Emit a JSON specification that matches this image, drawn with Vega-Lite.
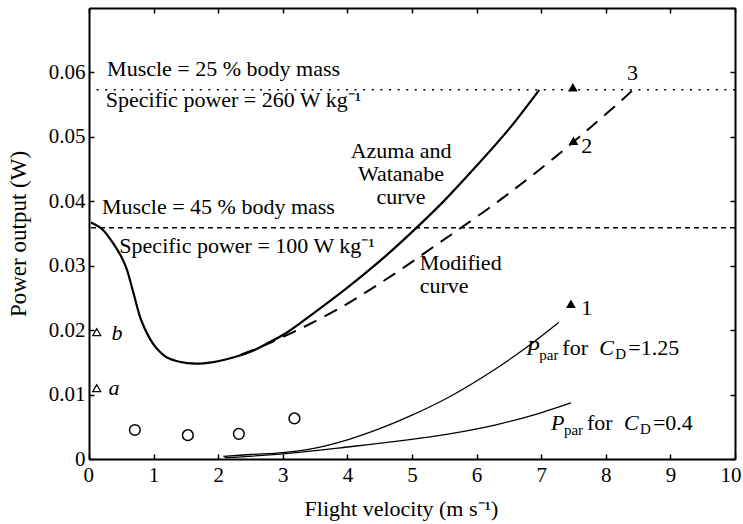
{
  "$schema": "https://vega.github.io/schema/vega-lite/v6.json",
  "width": 646,
  "height": 451,
  "autosize": {"type": "none"},
  "padding": {"left": 89, "top": 8, "right": 8, "bottom": 65},
  "background": "white",
  "config": {"view": {"stroke": null}, "font": "Liberation Serif"},
  "datasets": {
    "aw": [
      {"v": 0.03, "p": 0.0367}, {"v": 0.2, "p": 0.0357}, {"v": 0.38, "p": 0.0334}, {"v": 0.5, "p": 0.0314},
      {"v": 0.58, "p": 0.0296}, {"v": 0.69, "p": 0.0257}, {"v": 0.81, "p": 0.0215}, {"v": 0.99, "p": 0.0179},
      {"v": 1.1, "p": 0.0166}, {"v": 1.2, "p": 0.0158}, {"v": 1.4, "p": 0.0151}, {"v": 1.65, "p": 0.0148},
      {"v": 1.9, "p": 0.015}, {"v": 2.1, "p": 0.0154}, {"v": 2.49, "p": 0.0166}, {"v": 2.75, "p": 0.0179},
      {"v": 3.06, "p": 0.0196}, {"v": 3.5, "p": 0.0228}, {"v": 4.0, "p": 0.0266}, {"v": 4.5, "p": 0.0307},
      {"v": 5.06, "p": 0.0358}, {"v": 5.5, "p": 0.0401}, {"v": 6.0, "p": 0.0455}, {"v": 6.5, "p": 0.0512},
      {"v": 6.97, "p": 0.0573}
    ],
    "modified": [
      {"v": 2.35, "p": 0.0162}, {"v": 2.75, "p": 0.0178}, {"v": 3.31, "p": 0.0204}, {"v": 3.93, "p": 0.0237},
      {"v": 4.4, "p": 0.0266}, {"v": 4.9, "p": 0.0299}, {"v": 5.4, "p": 0.0334}, {"v": 5.79, "p": 0.0361},
      {"v": 6.35, "p": 0.0401}, {"v": 6.82, "p": 0.0437}, {"v": 7.33, "p": 0.0478}, {"v": 7.79, "p": 0.0517},
      {"v": 8.26, "p": 0.0558}, {"v": 8.42, "p": 0.0573}
    ],
    "ppar125": [
      {"v": 2.08, "p": 0.0004}, {"v": 2.5, "p": 0.0007}, {"v": 3.0, "p": 0.001}, {"v": 3.5, "p": 0.0017},
      {"v": 4.04, "p": 0.0031}, {"v": 4.5, "p": 0.0047}, {"v": 5.0, "p": 0.0068}, {"v": 5.59, "p": 0.0097},
      {"v": 6.25, "p": 0.0137}, {"v": 6.77, "p": 0.0173}, {"v": 7.27, "p": 0.0212}
    ],
    "ppar04": [
      {"v": 2.1, "p": 0.0002}, {"v": 3.0, "p": 0.0008}, {"v": 4.04, "p": 0.0019}, {"v": 4.81, "p": 0.0028},
      {"v": 5.58, "p": 0.0039}, {"v": 6.3, "p": 0.0053}, {"v": 6.97, "p": 0.0071}, {"v": 7.46, "p": 0.0087}
    ],
    "filledTri": [{"v": 7.46, "p": 0.0241}, {"v": 7.5, "p": 0.0494}, {"v": 7.49, "p": 0.0577}],
    "openTri": [{"v": 0.12, "p": 0.0197}, {"v": 0.12, "p": 0.011}],
    "circles": [{"v": 0.71, "p": 0.0045}, {"v": 1.53, "p": 0.0037}, {"v": 2.32, "p": 0.0039}, {"v": 3.18, "p": 0.0063}],
    "notes": [
      {"v": 0.28, "p": 0.0594, "t": "Muscle = 25 % body mass"},
      {"v": 0.26, "p": 0.0547, "t": "Specific power = 260 W kg⁻¹"},
      {"v": 0.2, "p": 0.038, "t": "Muscle = 45 % body mass"},
      {"v": 0.47, "p": 0.0319, "t": "Specific power = 100 W kg⁻¹"},
      {"v": 5.12, "p": 0.0294, "t": "Modified"},
      {"v": 5.12, "p": 0.0257, "t": "curve"},
      {"v": 7.62, "p": 0.0223, "t": "1"},
      {"v": 7.62, "p": 0.0475, "t": "2"},
      {"v": 8.33, "p": 0.0588, "t": "3"}
    ],
    "centerNotes": [
      {"v": 4.83, "p": 0.0467, "t": "Azuma and"},
      {"v": 4.83, "p": 0.0431, "t": "Watanabe"},
      {"v": 4.83, "p": 0.0396, "t": "curve"}
    ],
    "italicNotes": [
      {"v": 0.35, "p": 0.0184, "t": "b"},
      {"v": 0.3, "p": 0.0099, "t": "a"}
    ],
    "pparNotes": [
      {"v": 6.77, "p": 0.0162, "t": "=1.25"},
      {"v": 7.15, "p": 0.0045, "t": "=0.4"}
    ],
    "hline25": [{"p": 0.0573}],
    "hline45": [{"p": 0.0359}]
  },
  "resolve": {"axis": {"x": "independent", "y": "independent"}},
  "layer": [
    {
      "layer": [
        {
          "data": {"name": "aw"},
          "mark": {"type": "line", "color": "black", "strokeWidth": 2.2, "interpolate": "catmull-rom"},
          "encoding": {
            "x": {"field": "v", "type": "quantitative", "scale": {"domain": [0, 10], "nice": false, "zero": false},
              "axis": {"orient": "bottom", "values": [0,1,2,3,4,5,6,7,8,9,10], "format": "d", "grid": false,
                "tickSize": -5, "tickWidth": 1.5, "tickColor": "black", "domainColor": "black", "domainWidth": 2,
                "labelFont": "Liberation Serif", "labelFontSize": 21, "labelColor": "black", "labelPadding": 10,
                "labelFlush": true, "labelFlushOffset": 6, "labelOverlap": false,
                "title": "Flight velocity (m s⁻¹)", "titleFont": "Liberation Serif", "titleFontSize": 22,
                "titleFontWeight": "normal", "titleColor": "black", "titlePadding": 13, "titleX": 312}},
            "y": {"field": "p", "type": "quantitative", "scale": {"domain": [0, 0.07], "nice": false, "zero": true},
              "axis": {"orient": "left", "values": [0, 0.01, 0.02, 0.03, 0.04, 0.05, 0.06], "grid": false,
                "labelExpr": "datum.value === 0 ? '0' : format(datum.value, '.2f')",
                "tickSize": -5, "tickWidth": 1.5, "tickColor": "black", "domainColor": "black", "domainWidth": 2,
                "labelFont": "Liberation Serif", "labelFontSize": 21, "labelColor": "black", "labelPadding": 9,
                "labelFlush": false, "labelOverlap": false,
                "title": "Power output (W)", "titleFont": "Liberation Serif", "titleFontSize": 23,
                "titleFontWeight": "normal", "titleColor": "black", "titlePadding": 18}}
          }
        },
        {
          "data": {"name": "modified"},
          "mark": {"type": "line", "color": "black", "strokeWidth": 2, "strokeDash": [14, 9], "interpolate": "catmull-rom"},
          "encoding": {
            "x": {"field": "v", "type": "quantitative"},
            "y": {"field": "p", "type": "quantitative"}
          }
        },
        {
          "data": {"name": "ppar125"},
          "mark": {"type": "line", "color": "black", "strokeWidth": 1.3, "interpolate": "catmull-rom"},
          "encoding": {
            "x": {"field": "v", "type": "quantitative"},
            "y": {"field": "p", "type": "quantitative"}
          }
        },
        {
          "data": {"name": "ppar04"},
          "mark": {"type": "line", "color": "black", "strokeWidth": 1.3, "interpolate": "catmull-rom"},
          "encoding": {
            "x": {"field": "v", "type": "quantitative"},
            "y": {"field": "p", "type": "quantitative"}
          }
        },
        {
          "data": {"name": "hline25"},
          "mark": {"type": "rule", "color": "black", "strokeWidth": 1.6, "strokeDash": [2, 6.6]},
          "encoding": {"y": {"field": "p", "type": "quantitative"}}
        },
        {
          "data": {"name": "hline45"},
          "mark": {"type": "rule", "color": "black", "strokeWidth": 1.5, "strokeDash": [5, 4]},
          "encoding": {"y": {"field": "p", "type": "quantitative"}}
        },
        {
          "data": {"name": "filledTri"},
          "mark": {"type": "point", "shape": "triangle-up", "filled": true, "color": "black", "size": 95, "opacity": 1},
          "encoding": {
            "x": {"field": "v", "type": "quantitative"},
            "y": {"field": "p", "type": "quantitative"}
          }
        },
        {
          "data": {"name": "openTri"},
          "mark": {"type": "point", "shape": "triangle-up", "filled": false, "color": "black", "size": 65, "strokeWidth": 1.2, "opacity": 1},
          "encoding": {
            "x": {"field": "v", "type": "quantitative"},
            "y": {"field": "p", "type": "quantitative"}
          }
        },
        {
          "data": {"name": "circles"},
          "mark": {"type": "point", "shape": "circle", "filled": false, "color": "black", "size": 115, "strokeWidth": 1.5, "opacity": 1},
          "encoding": {
            "x": {"field": "v", "type": "quantitative"},
            "y": {"field": "p", "type": "quantitative"}
          }
        },
        {
          "data": {"name": "notes"},
          "mark": {"type": "text", "align": "left", "baseline": "alphabetic", "font": "Liberation Serif", "fontSize": 22, "color": "black"},
          "encoding": {
            "x": {"field": "v", "type": "quantitative"},
            "y": {"field": "p", "type": "quantitative"},
            "text": {"field": "t"}
          }
        },
        {
          "data": {"name": "centerNotes"},
          "mark": {"type": "text", "align": "center", "baseline": "alphabetic", "font": "Liberation Serif", "fontSize": 22, "color": "black"},
          "encoding": {
            "x": {"field": "v", "type": "quantitative"},
            "y": {"field": "p", "type": "quantitative"},
            "text": {"field": "t"}
          }
        },
        {
          "data": {"name": "italicNotes"},
          "mark": {"type": "text", "align": "left", "baseline": "alphabetic", "font": "Liberation Serif", "fontStyle": "italic", "fontSize": 22, "color": "black"},
          "encoding": {
            "x": {"field": "v", "type": "quantitative"},
            "y": {"field": "p", "type": "quantitative"},
            "text": {"field": "t"}
          }
        },
        {
          "data": {"name": "pparNotes"},
          "mark": {"type": "text", "text": "P", "align": "left", "baseline": "alphabetic", "font": "Liberation Serif", "fontStyle": "italic", "fontSize": 22, "color": "black"},
          "encoding": {
            "x": {"field": "v", "type": "quantitative"},
            "y": {"field": "p", "type": "quantitative"}
          }
        },
        {
          "data": {"name": "pparNotes"},
          "mark": {"type": "text", "text": "par", "align": "left", "baseline": "alphabetic", "dx": 13, "dy": 5, "font": "Liberation Serif", "fontSize": 15, "color": "black"},
          "encoding": {
            "x": {"field": "v", "type": "quantitative"},
            "y": {"field": "p", "type": "quantitative"}
          }
        },
        {
          "data": {"name": "pparNotes"},
          "mark": {"type": "text", "text": "for", "align": "left", "baseline": "alphabetic", "dx": 36, "font": "Liberation Serif", "fontSize": 22, "color": "black"},
          "encoding": {
            "x": {"field": "v", "type": "quantitative"},
            "y": {"field": "p", "type": "quantitative"}
          }
        },
        {
          "data": {"name": "pparNotes"},
          "mark": {"type": "text", "text": "C", "align": "left", "baseline": "alphabetic", "dx": 73, "font": "Liberation Serif", "fontStyle": "italic", "fontSize": 22, "color": "black"},
          "encoding": {
            "x": {"field": "v", "type": "quantitative"},
            "y": {"field": "p", "type": "quantitative"}
          }
        },
        {
          "data": {"name": "pparNotes"},
          "mark": {"type": "text", "text": "D", "align": "left", "baseline": "alphabetic", "dx": 89, "dy": 4, "font": "Liberation Serif", "fontSize": 15, "color": "black"},
          "encoding": {
            "x": {"field": "v", "type": "quantitative"},
            "y": {"field": "p", "type": "quantitative"}
          }
        },
        {
          "data": {"name": "pparNotes"},
          "mark": {"type": "text", "align": "left", "baseline": "alphabetic", "dx": 102, "font": "Liberation Serif", "fontSize": 22, "color": "black"},
          "encoding": {
            "x": {"field": "v", "type": "quantitative"},
            "y": {"field": "p", "type": "quantitative"},
            "text": {"field": "t"}
          }
        }
      ]
    },
    {
      "data": {"name": "circles"},
      "mark": {"type": "point", "opacity": 0},
      "encoding": {
        "x": {"field": "v", "type": "quantitative",
          "axis": {"orient": "top", "values": [0,1,2,3,4,5,6,7,8,9,10], "labels": false, "title": null, "grid": false,
            "tickSize": -5, "tickWidth": 1.5, "tickColor": "black", "domainColor": "black", "domainWidth": 2}},
        "y": {"field": "p", "type": "quantitative",
          "axis": {"orient": "right", "values": [0, 0.01, 0.02, 0.03, 0.04, 0.05, 0.06, 0.07], "labels": false, "title": null, "grid": false,
            "tickSize": -5, "tickWidth": 1.5, "tickColor": "black", "domainColor": "black", "domainWidth": 2}}
      }
    }
  ]
}
